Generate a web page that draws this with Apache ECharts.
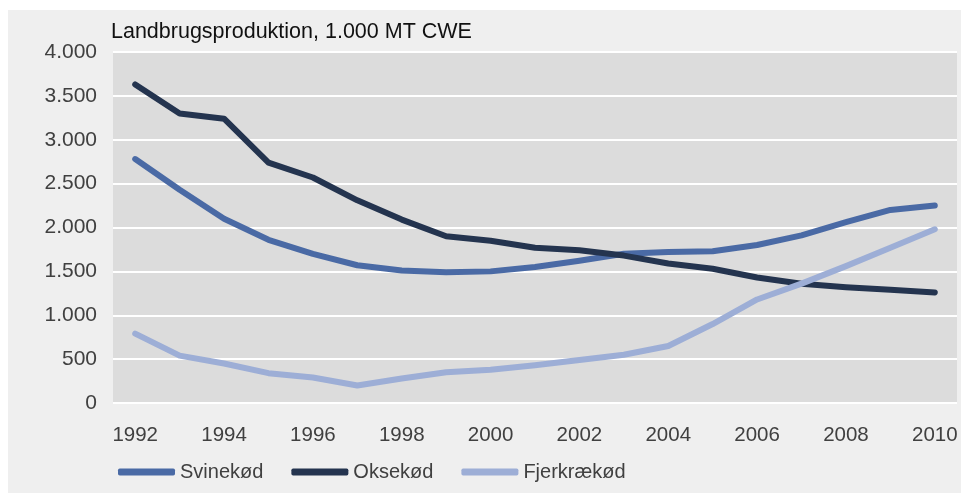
<!DOCTYPE html>
<html>
<head>
<meta charset="utf-8">
<script src="https://cdn.jsdelivr.net/npm/echarts@6/dist/echarts.min.js"></script>
<style>
  html, body { margin: 0; padding: 0; background: #ffffff; }
  #panel { position: absolute; left: 8px; top: 10px; width: 953px; height: 483px; background: #efefef; }
  #chart { position: absolute; left: 0; top: 0; width: 961px; height: 493px; }
</style>
</head>
<body>
<div id="panel"></div>
<div id="chart"></div>
<script>
const years = ['1992', '1993', '1994', '1995', '1996', '1997', '1998', '1999', '2000', '2001',
    '2002', '2003', '2004', '2005', '2006', '2007', '2008', '2009', '2010'];

const svinekod = [2780, 2430, 2100, 1860, 1700, 1570, 1510, 1490, 1500, 1550,
    1620, 1700, 1720, 1730, 1800, 1910, 2060, 2200, 2250];
const oksekod = [3630, 3300, 3240, 2740, 2570, 2310, 2090, 1900, 1850, 1770,
    1740, 1680, 1590, 1530, 1430, 1360, 1320, 1290, 1260];
const fjerkraekod = [790, 540, 450, 340, 290, 200, 280, 350, 380, 430,
    490, 550, 650, 900, 1180, 1360, 1560, 1770, 1980];

const seriesNames = ['Svinekød', 'Oksekød', 'Fjerkrækød'];
const seriesColors = ['#4a6aa5', '#24344f', '#9daed6'];

const chart = echarts.init(document.getElementById('chart'));
const font = 'Liberation Sans, Arial, sans-serif';

// tusindtalsseparator med punktum
const fmt = (v) => String(v).replace(/\B(?=(\d{3})+(?!\d))/g, '.');

function makeLine(name, data, color) {
    return {
        name: name,
        type: 'line',
        data: data,
        symbol: 'none',
        smooth: false,
        itemStyle: { color: color },
        lineStyle: { color: color, width: 6, cap: 'round', join: 'round' },
        animation: false
    };
}

chart.setOption({
    backgroundColor: 'transparent',
    title: {
        text: 'Landbrugsproduktion, 1.000 MT CWE',
        left: 106,
        top: 16,
        textStyle: { fontFamily: font, fontSize: 21.5, fontWeight: 'normal', color: '#111111' }
    },
    grid: {
        left: 113, right: 4, top: 52, bottom: 90,
        show: true, backgroundColor: '#dcdcdc', borderWidth: 0
    },
    legend: {
        left: 113,
        top: 457,
        itemWidth: 57,
        itemHeight: 7,
        itemGap: 28,
        icon: 'roundRect',
        textStyle: { fontFamily: font, fontSize: 20, color: '#404040' },
        data: seriesNames
    },
    xAxis: {
        type: 'category',
        data: years,
        boundaryGap: true,
        axisLine: { show: false },
        axisTick: { show: false },
        axisLabel: {
            interval: 1,
            margin: 22,
            fontFamily: font,
            fontSize: 20.5,
            color: '#404040'
        },
        splitLine: { show: false }
    },
    yAxis: {
        type: 'value',
        min: 0,
        max: 4000,
        interval: 500,
        axisLine: { show: false },
        axisTick: { show: false },
        axisLabel: {
            margin: 16,
            fontFamily: font,
            fontSize: 21,
            color: '#404040',
            formatter: fmt
        },
        splitLine: { lineStyle: { color: '#ffffff', width: 2 } }
    },
    series: [
        makeLine(seriesNames[0], svinekod, seriesColors[0]),
        makeLine(seriesNames[1], oksekod, seriesColors[1]),
        makeLine(seriesNames[2], fjerkraekod, seriesColors[2])
    ]
});
</script>
</body>
</html>
